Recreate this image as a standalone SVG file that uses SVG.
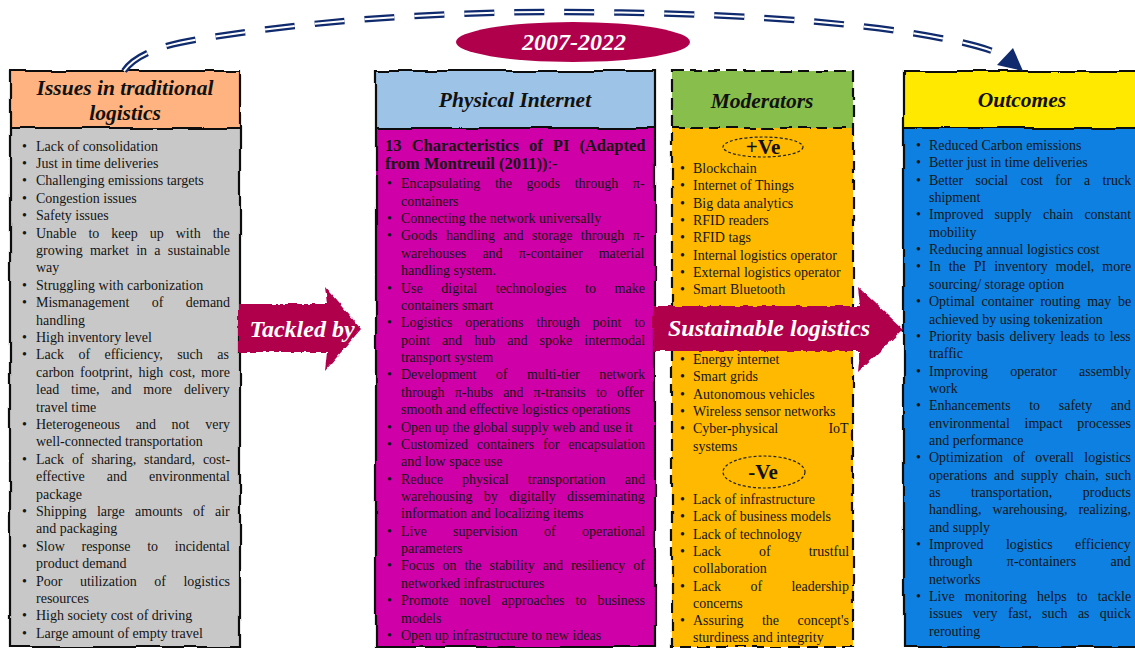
<svg xmlns="http://www.w3.org/2000/svg" width="1135" height="648" viewBox="0 0 1135 648">
<style>
.bt{font-family:"Liberation Serif","Times New Roman",serif;font-size:14px;fill:#151515}
.bb{font-family:"Liberation Serif","Times New Roman",serif;font-size:16.5px;font-weight:bold;fill:#151515}
.hd{font-family:"Liberation Serif","Times New Roman",serif;font-size:21.5px;font-weight:bold;font-style:italic;fill:#111;text-anchor:middle}
.wt{font-family:"Liberation Serif","Times New Roman",serif;font-size:24px;font-weight:bold;font-style:italic;fill:#fff;text-anchor:middle}
.pm{font-family:"Liberation Serif","Times New Roman",serif;font-size:21px;font-weight:bold;fill:#111;text-anchor:middle}
.brd{fill:none;stroke:#111;stroke-width:2.2;filter:url(#rough)}
.dsh{stroke-dasharray:12 6}
.crim{fill:#B0004C}
</style>
<defs>
<filter id="rough" filterUnits="userSpaceOnUse" x="-10" y="-10" width="1160" height="670">
<feTurbulence type="fractalNoise" baseFrequency="0.025" numOctaves="2" seed="4" result="n"/>
<feDisplacementMap in="SourceGraphic" in2="n" scale="5" xChannelSelector="R" yChannelSelector="G"/>
</filter>
<filter id="ragged" filterUnits="userSpaceOnUse" x="-10" y="-10" width="1160" height="670">
<feTurbulence type="fractalNoise" baseFrequency="0.12" numOctaves="2" seed="7" result="n"/>
<feDisplacementMap in="SourceGraphic" in2="n" scale="4" xChannelSelector="R" yChannelSelector="G"/>
</filter>
</defs>
<rect width="1135" height="648" fill="#fff"/>

<!-- Issues in traditional logistics -->
<g id="node-issues">
<rect x="10" y="71" width="230" height="57" fill="#FFB380"/>
<rect x="10" y="128" width="230" height="519" fill="#C8C8C8"/>
<path class="brd" d="M10,71 H240 V647 H10 Z M10,128 H240"/>
<text class="hd" x="125" y="95">Issues in traditional</text>
<text class="hd" x="125" y="120">logistics</text>
<g class="bt">
<text x="22" y="150.5">•</text><text x="36" y="150.5">Lack of consolidation</text>
<text x="22" y="167.9">•</text><text x="36" y="167.9">Just in time deliveries</text>
<text x="22" y="185.3">•</text><text x="36" y="185.3">Challenging emissions targets</text>
<text x="22" y="202.7">•</text><text x="36" y="202.7">Congestion issues</text>
<text x="22" y="220.1">•</text><text x="36" y="220.1">Safety issues</text>
<text x="22" y="237.5">•</text><text x="36" y="237.5" style="word-spacing:8.5px">Unable to keep up with the</text>
<text x="36" y="254.9" style="word-spacing:3.8px">growing market in a sustainable</text>
<text x="36" y="272.3">way</text>
<text x="22" y="289.7">•</text><text x="36" y="289.7">Struggling with carbonization</text>
<text x="22" y="307.1">•</text><text x="36" y="307.1" style="word-spacing:18.9px">Mismanagement of demand</text>
<text x="36" y="324.5">handling</text>
<text x="22" y="341.9">•</text><text x="36" y="341.9">High inventory level</text>
<text x="22" y="359.3">•</text><text x="36" y="359.3" style="word-spacing:10.9px">Lack of efficiency, such as</text>
<text x="36" y="376.7" style="word-spacing:2.4px">carbon footprint, high cost, more</text>
<text x="36" y="394.1" style="word-spacing:8.3px">lead time, and more delivery</text>
<text x="36" y="411.5">travel time</text>
<text x="22" y="428.9">•</text><text x="36" y="428.9" style="word-spacing:12.2px">Heterogeneous and not very</text>
<text x="36" y="446.3">well-connected transportation</text>
<text x="22" y="463.7">•</text><text x="36" y="463.7" style="word-spacing:4.4px">Lack of sharing, standard, cost-</text>
<text x="36" y="481.1" style="word-spacing:18.5px">effective and environmental</text>
<text x="36" y="498.5">package</text>
<text x="22" y="515.9">•</text><text x="36" y="515.9" style="word-spacing:6.9px">Shipping large amounts of air</text>
<text x="36" y="533.3">and packaging</text>
<text x="22" y="550.7">•</text><text x="36" y="550.7" style="word-spacing:13.2px">Slow response to incidental</text>
<text x="36" y="568.1">product demand</text>
<text x="22" y="585.5">•</text><text x="36" y="585.5" style="word-spacing:14px">Poor utilization of logistics</text>
<text x="36" y="602.9">resources</text>
<text x="22" y="620.3">•</text><text x="36" y="620.3">High society cost of driving</text>
<text x="22" y="637.7">•</text><text x="36" y="637.7">Large amount of empty travel</text>
</g>
</g>

<!-- Physical Internet -->
<g id="node-pi">
<rect x="376" y="71" width="279" height="57" fill="#9DC3E6"/>
<rect x="376" y="128" width="279" height="519" fill="#D000A8"/>
<path class="brd" d="M376,71 H655 V647 H376 Z M376,128 H655"/>
<text class="hd" x="515" y="107">Physical Internet</text>
<text class="bb" x="385" y="151" style="word-spacing:6px">13 Characteristics of PI (Adapted</text>
<text class="bb" x="385" y="169">from Montreuil (2011))<tspan font-weight="normal">:-</tspan></text>
<g class="bt">
<text x="387" y="188.3">•</text><text x="401" y="188.3" style="word-spacing:11.1px">Encapsulating the goods through π-</text>
<text x="401" y="205.7">containers</text>
<text x="387" y="223.0">•</text><text x="401" y="223.0">Connecting the network universally</text>
<text x="387" y="240.4">•</text><text x="401" y="240.4" style="word-spacing:4.9px">Goods handling and storage through π-</text>
<text x="401" y="257.8" style="word-spacing:12.6px">warehouses and π-container material</text>
<text x="401" y="275.2">handling system.</text>
<text x="387" y="292.5">•</text><text x="401" y="292.5" style="word-spacing:15.1px">Use digital technologies to make</text>
<text x="401" y="309.9">containers smart</text>
<text x="387" y="327.3">•</text><text x="401" y="327.3" style="word-spacing:9.3px">Logistics operations through point to</text>
<text x="401" y="344.6" style="word-spacing:8.6px">point and hub and spoke intermodal</text>
<text x="401" y="362.0">transport system</text>
<text x="387" y="379.4">•</text><text x="401" y="379.4" style="word-spacing:15.9px">Development of multi-tier network</text>
<text x="401" y="396.7" style="word-spacing:6.7px">through π-hubs and π-transits to offer</text>
<text x="401" y="414.1">smooth and effective logistics operations</text>
<text x="387" y="431.5">•</text><text x="401" y="431.5">Open up the global supply web and use it</text>
<text x="387" y="448.9">•</text><text x="401" y="448.9" style="word-spacing:5.3px">Customized containers for encapsulation</text>
<text x="401" y="466.2">and low space use</text>
<text x="387" y="483.6">•</text><text x="401" y="483.6" style="word-spacing:15.6px">Reduce physical transportation and</text>
<text x="401" y="501.0" style="word-spacing:7.8px">warehousing by digitally disseminating</text>
<text x="401" y="518.3">information and localizing items</text>
<text x="387" y="535.7">•</text><text x="401" y="535.7" style="word-spacing:22.9px">Live supervision of operational</text>
<text x="401" y="553.1">parameters</text>
<text x="387" y="570.4">•</text><text x="401" y="570.4" style="word-spacing:4.5px">Focus on the stability and resiliency of</text>
<text x="401" y="587.8">networked infrastructures</text>
<text x="387" y="605.2">•</text><text x="401" y="605.2" style="word-spacing:7.5px">Promote novel approaches to business</text>
<text x="401" y="622.6">models</text>
<text x="387" y="639.9">•</text><text x="401" y="639.9">Open up infrastructure to new ideas</text>
</g>
</g>

<!-- Moderators -->
<g id="node-moderators">
<rect x="672" y="71" width="181" height="57" fill="#88BF4C"/>
<rect x="672" y="128" width="181" height="519" fill="#FFBA00"/>
<path class="brd dsh" d="M672,71 H853 V647 H672 Z M672,128 H853"/>
<text class="hd" x="762" y="108">Moderators</text>
<ellipse cx="763" cy="147" rx="40" ry="10" fill="none" stroke="#222" stroke-width="1.2" stroke-dasharray="3 2"/>
<text class="pm" x="763" y="154">+Ve</text>
<ellipse cx="764" cy="472" rx="41" ry="16" fill="none" stroke="#222" stroke-width="1.2" stroke-dasharray="3 2"/>
<text class="pm" x="763" y="479">-Ve</text>
<g class="bt">
<text x="680" y="173">•</text><text x="693" y="173">Blockchain</text>
<text x="680" y="190.3">•</text><text x="693" y="190.3">Internet of Things</text>
<text x="680" y="207.6">•</text><text x="693" y="207.6">Big data analytics</text>
<text x="680" y="224.9">•</text><text x="693" y="224.9">RFID readers</text>
<text x="680" y="242.2">•</text><text x="693" y="242.2">RFID tags</text>
<text x="680" y="259.5">•</text><text x="693" y="259.5">Internal logistics operator</text>
<text x="680" y="276.8">•</text><text x="693" y="276.8">External logistics operator</text>
<text x="680" y="294.1">•</text><text x="693" y="294.1">Smart Bluetooth</text>
<text x="680" y="364">•</text><text x="693" y="364">Energy internet</text>
<text x="680" y="381.3">•</text><text x="693" y="381.3">Smart grids</text>
<text x="680" y="398.6">•</text><text x="693" y="398.6">Autonomous vehicles</text>
<text x="680" y="415.9">•</text><text x="693" y="415.9">Wireless sensor networks</text>
<text x="680" y="433.2">•</text><text x="693" y="433.2" style="word-spacing:46.7px">Cyber-physical IoT</text>
<text x="693" y="450.5">systems</text>
<text x="680" y="504">•</text><text x="693" y="504">Lack of infrastructure</text>
<text x="680" y="521.3">•</text><text x="693" y="521.3">Lack of business models</text>
<text x="680" y="538.6">•</text><text x="693" y="538.6">Lack of technology</text>
<text x="680" y="555.9">•</text><text x="693" y="555.9" style="word-spacing:34.5px">Lack of trustful</text>
<text x="693" y="573.2">collaboration</text>
<text x="680" y="590.5">•</text><text x="693" y="590.5" style="word-spacing:25.9px">Lack of leadership</text>
<text x="693" y="607.8">concerns</text>
<text x="680" y="625.1">•</text><text x="693" y="625.1" style="word-spacing:14.9px">Assuring the concept's</text>
<text x="693" y="642.4">sturdiness and integrity</text>
</g>
</g>

<!-- Outcomes -->
<g id="node-outcomes">
<rect x="904" y="71" width="240" height="57" fill="#FFE900"/>
<rect x="904" y="128" width="240" height="519" fill="#0E80E2"/>
<path class="brd" d="M1150,71 H904 V647 H1150 M904,128 H1150"/>
<text class="hd" x="1022" y="107">Outcomes</text>
<g class="bt">
<text x="916" y="150">•</text><text x="929" y="150">Reduced Carbon emissions</text>
<text x="916" y="167.35">•</text><text x="929" y="167.35">Better just in time deliveries</text>
<text x="916" y="184.7">•</text><text x="929" y="184.7" style="word-spacing:8.8px">Better social cost for a truck</text>
<text x="929" y="202.05">shipment</text>
<text x="916" y="219.4">•</text><text x="929" y="219.4" style="word-spacing:7.6px">Improved supply chain constant</text>
<text x="929" y="236.75">mobility</text>
<text x="916" y="254.1">•</text><text x="929" y="254.1">Reducing annual logistics cost</text>
<text x="916" y="271.45">•</text><text x="929" y="271.45" style="word-spacing:4.5px">In the PI inventory model, more</text>
<text x="929" y="288.8">sourcing/ storage option</text>
<text x="916" y="306.15">•</text><text x="929" y="306.15" style="word-spacing:3.1px">Optimal container routing may be</text>
<text x="929" y="323.5">achieved by using tokenization</text>
<text x="916" y="340.85">•</text><text x="929" y="340.85" style="word-spacing:1.4px">Priority basis delivery leads to less</text>
<text x="929" y="358.2">traffic</text>
<text x="916" y="375.55">•</text><text x="929" y="375.55" style="word-spacing:18.6px">Improving operator assembly</text>
<text x="929" y="392.9">work</text>
<text x="916" y="410.25">•</text><text x="929" y="410.25" style="word-spacing:15.1px">Enhancements to safety and</text>
<text x="929" y="427.6" style="word-spacing:11.2px">environmental impact processes</text>
<text x="929" y="444.95">and performance</text>
<text x="916" y="462.3">•</text><text x="929" y="462.3" style="word-spacing:6.8px">Optimization of overall logistics</text>
<text x="929" y="479.65" style="word-spacing:3.2px">operations and supply chain, such</text>
<text x="929" y="497" style="word-spacing:26.9px">as transportation, products</text>
<text x="929" y="514.35" style="word-spacing:7.5px">handling, warehousing, realizing,</text>
<text x="929" y="531.7">and supply</text>
<text x="916" y="549.05">•</text><text x="929" y="549.05" style="word-spacing:19px">Improved logistics efficiency</text>
<text x="929" y="566.4" style="word-spacing:30.8px">through π-containers and</text>
<text x="929" y="583.75">networks</text>
<text x="916" y="601.1">•</text><text x="929" y="601.1" style="word-spacing:6.6px">Live monitoring helps to tackle</text>
<text x="929" y="618.45" style="word-spacing:6.8px">issues very fast, such as quick</text>
<text x="929" y="635.8">rerouting</text>
</g>
</g>

<!-- Period label -->
<g id="node-period">
<ellipse cx="573" cy="42" rx="117" ry="20" class="crim"/>
<text class="wt" x="574" y="50">2007-2022</text>
</g>

<!-- Connectors -->
<g id="connectors">
<path d="M124,71 Q140,48 200,39 C330,18 450,12 560,12 C700,12 850,20 940,38 Q985,46 1006,57" fill="none" stroke="#102A6E" stroke-width="6.5" stroke-dasharray="30 20"/>
<path d="M124,71 Q140,48 200,39 C330,18 450,12 560,12 C700,12 850,20 940,38 Q985,46 1006,57" fill="none" stroke="#fff" stroke-width="2" stroke-dasharray="30 20"/>
<polygon points="1013,48 997,65 1023,71" fill="#102A6E"/>
<g id="arrow-tackled">
<polygon class="crim" filter="url(#ragged)" points="238,304 327,304 325,287 361,329 325,371 327,352 238,352"/>
<text class="wt" x="302" y="337">Tackled by</text>
</g>
<g id="arrow-sustainable">
<polygon class="crim" filter="url(#ragged)" points="653,306 860,306 858,287 903,329 858,372 860,351 653,351"/>
<text class="wt" x="769" y="336">Sustainable logistics</text>
</g>
</g>
</svg>
